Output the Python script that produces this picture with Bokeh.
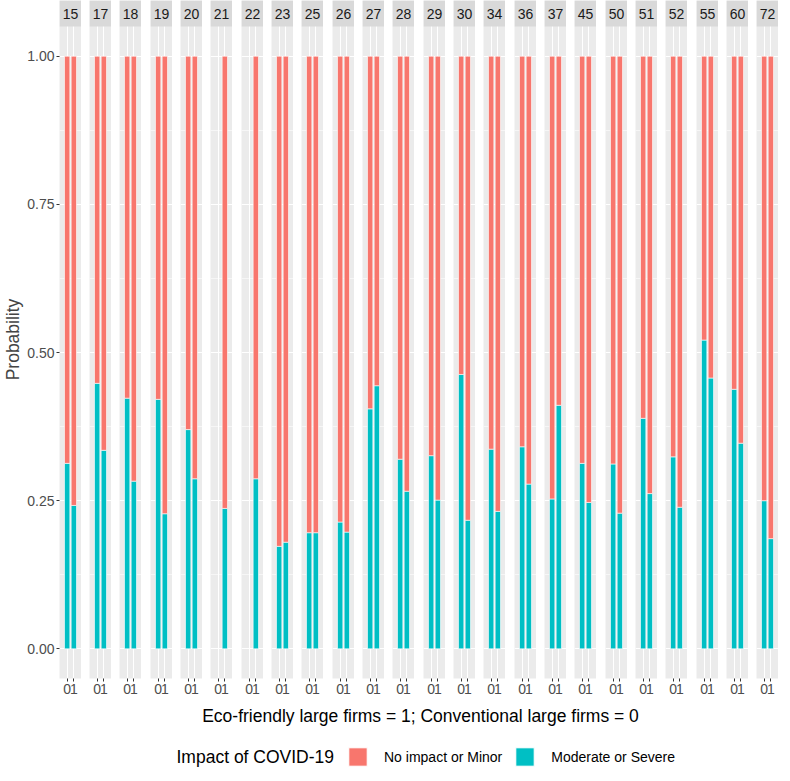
from bokeh.plotting import figure
from bokeh.layouts import row, column
from bokeh.models import (Range1d, FixedTicker, NumeralTickFormatter, Legend, LegendItem,
                          Label, ColumnDataSource, BoxAnnotation, Grid)
from bokeh.embed import file_html
from bokeh.resources import INLINE

# Datos: probabilidad de impacto "Moderate or Severe" por sector (faceta)
groups = ["15", "17", "18", "19", "20", "21", "22", "23", "25", "26", "27", "28",
          "29", "30", "34", "36", "37", "45", "50", "51", "52", "55", "60", "72"]
# firmas convencionales (x = 0); None = sin datos
conventional = [0.313, 0.448, 0.423, 0.421, 0.370, None, None, 0.173, 0.196, 0.214, 0.405, 0.320,
                0.326, 0.463, 0.337, 0.341, 0.253, 0.313, 0.312, 0.389, 0.324, 0.521, 0.438, 0.250]
# firmas eco-friendly (x = 1)
eco_friendly = [0.242, 0.335, 0.283, 0.228, 0.287, 0.237, 0.287, 0.180, 0.196, 0.197, 0.444, 0.266,
                0.251, 0.217, 0.232, 0.278, 0.411, 0.247, 0.229, 0.262, 0.239, 0.457, 0.347, 0.186]
firm_types = [0, 1]
firm_labels = ["0", "1"]
y_ticks = [0, 0.25, 0.5, 0.75, 1.0]
y_minor = [0.125, 0.375, 0.625, 0.875]

FONT = "Liberation Sans"
SMALL = "14px"
BIG = "17.5px"
RED = "#F8766D"
TEAL = "#00BFC4"
PANEL_W = 22
PANEL_H = 678
X0, X1 = -1.15, 2.15
Y0, Y_STRIP, Y1 = -0.05, 1.05, 1.094

panels = []
for i, g in enumerate(groups):
    xs, mods = [], []
    for ft, v in zip(firm_types, (conventional[i], eco_friendly[i])):
        if v is not None:
            xs.append(ft)
            mods.append(v)
    src = ColumnDataSource(dict(x=xs, mod=mods, full=[1.0] * len(xs)))

    first = i == 0
    gap = 8 + (1 if i % 3 == 0 else 0)
    p = figure(frame_width=PANEL_W, frame_height=PANEL_H,
               x_range=Range1d(X0, X1), y_range=Range1d(Y0, Y1),
               y_axis_location="left" if first else None,
               min_border_left=0 if first else gap, min_border_right=0,
               min_border_top=0, min_border_bottom=0,
               background_fill_color="#EBEBEB", border_fill_color="white",
               outline_line_color=None, output_backend="svg", toolbar_location=None)

    # rejilla blanca
    p.xgrid.ticker = FixedTicker(ticks=firm_types)
    p.xgrid.grid_line_color = "white"
    p.xgrid.grid_line_width = 1.1
    yticker = FixedTicker(ticks=y_ticks, minor_ticks=y_minor)
    if len(p.ygrid) == 0:
        p.add_layout(Grid(dimension=1, ticker=yticker))
    p.ygrid.ticker = yticker
    p.ygrid.grid_line_color = "white"
    p.ygrid.grid_line_width = 1.1
    p.ygrid.minor_grid_line_color = "white"
    p.ygrid.minor_grid_line_width = 0.55

    # barras apiladas
    p.vbar(x="x", width=0.8, bottom=0, top="mod", source=src,
           fill_color=TEAL, line_color="white", line_width=0.6)
    p.vbar(x="x", width=0.8, bottom="mod", top="full", source=src,
           fill_color=RED, line_color="white", line_width=0.6)

    # tira de la faceta
    p.add_layout(BoxAnnotation(bottom=Y_STRIP, fill_color="#D9D9D9", fill_alpha=1.0,
                               line_color=None))
    p.add_layout(Label(x=(firm_types[0] + firm_types[1]) / 2, y=(Y_STRIP + Y1) / 2, text=g,
                       text_align="center", text_baseline="middle",
                       text_font=FONT, text_font_size=SMALL, text_color="#1A1A1A"))

    # eje x
    p.xaxis.ticker = FixedTicker(ticks=firm_types)
    p.xaxis.major_label_overrides = dict(zip(firm_types, firm_labels))
    p.xaxis.axis_line_color = None
    p.xaxis.major_tick_out = 3
    p.xaxis.major_tick_in = 0
    p.xaxis.minor_tick_out = 0
    p.xaxis.minor_tick_in = 0
    p.xaxis.major_tick_line_color = "#333333"
    p.xaxis.major_label_standoff = 2
    p.xaxis.major_label_text_font = FONT
    p.xaxis.major_label_text_font_size = SMALL
    p.xaxis.major_label_text_color = "#4D4D4D"

    if first:
        p.yaxis.ticker = FixedTicker(ticks=y_ticks)
        p.yaxis.formatter = NumeralTickFormatter(format="0.00")
        p.yaxis.axis_label = "Probability"
        p.yaxis.axis_label_text_font = FONT
        p.yaxis.axis_label_text_font_size = BIG
        p.yaxis.axis_label_text_font_style = "normal"
        p.yaxis.axis_label_standoff = 1
        p.yaxis.axis_line_color = None
        p.yaxis.major_tick_out = 3
        p.yaxis.major_tick_in = 0
        p.yaxis.minor_tick_out = 0
        p.yaxis.minor_tick_in = 0
        p.yaxis.major_tick_line_color = "#333333"
        p.yaxis.major_label_standoff = 2
        p.yaxis.major_label_text_font = FONT
        p.yaxis.major_label_text_font_size = SMALL
        p.yaxis.major_label_text_color = "#4D4D4D"
    panels.append(p)

# titulo del eje x y leyenda
b = figure(width=774, height=74, x_range=Range1d(0, 774), y_range=Range1d(0, 74),
           x_axis_location=None, y_axis_location=None, min_border=0,
           outline_line_color=None, output_backend="svg", toolbar_location=None)
b.xgrid.visible = False
b.ygrid.visible = False
b.add_layout(Label(x=420, y=55, x_units="screen", y_units="screen",
                   text="Eco-friendly large firms = 1; Conventional large firms = 0",
                   text_align="center", text_baseline="middle",
                   text_font=FONT, text_font_size=BIG, text_color="black"))
b.add_layout(Label(x=176, y=14, x_units="screen", y_units="screen",
                   text="Impact of COVID-19", text_align="left", text_baseline="middle",
                   text_font=FONT, text_font_size=BIG, text_color="black"))
key_src = ColumnDataSource(dict(x=[0], top=[0]))
r_red = b.vbar(x="x", top="top", width=1, source=key_src, fill_color=RED, line_color="white")
r_teal = b.vbar(x="x", top="top", width=1, source=key_src, fill_color=TEAL, line_color="white")
legend = Legend(items=[LegendItem(label="No impact or Minor", renderers=[r_red]),
                       LegendItem(label="Moderate or Severe", renderers=[r_teal])],
                orientation="horizontal", location=(346, 2),
                glyph_width=23, glyph_height=23, label_height=23,
                label_standoff=15, spacing=11, padding=0, margin=0,
                border_line_color=None, background_fill_alpha=0,
                label_text_font=FONT, label_text_font_size=SMALL, label_text_color="black")
b.add_layout(legend, "center")

layout = column(row(*panels, spacing=0), b, spacing=0)
open("out.html", "w").write(file_html(layout, INLINE))
